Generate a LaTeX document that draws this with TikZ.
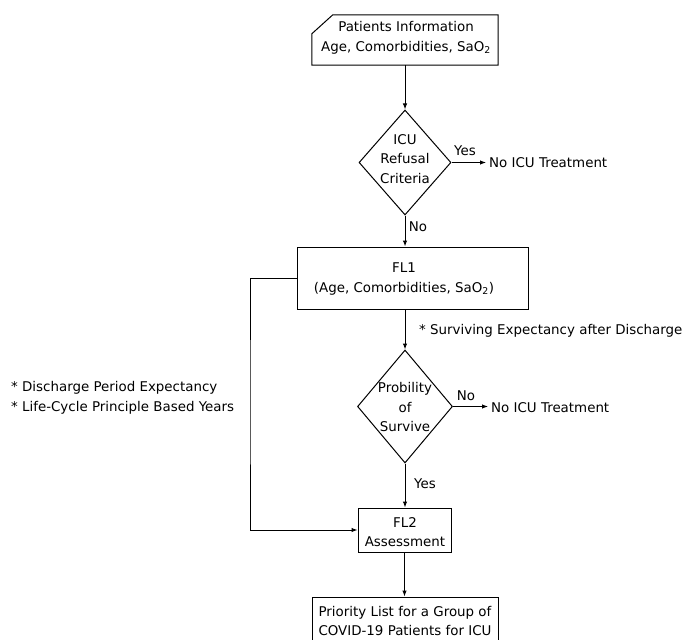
\documentclass[tikz,border=0pt]{standalone}
\usepackage{fontspec}
\setmainfont{DejaVu Sans}
\usetikzlibrary{shapes.geometric,arrows.meta}
\begin{document}
\begin{tikzpicture}[x=1pt,y=-1pt,
  every node/.style={font=\fontsize{13.4}{19.5}\selectfont, inner sep=0pt, align=center},
  boxshape/.style={draw, rectangle, line width=1pt},
  diam/.style={draw, diamond, line width=1pt},
  txt/.style={},
  conn/.style={line width=1pt},
  arr/.style={line width=1pt, -{Latex[length=6pt,width=4.5pt]}}]
\useasboundingbox (0,0) rectangle (692,639);
\clip (0,0) rectangle (692,639);
% top card
\node[minimum width=186pt, minimum height=50pt] (p) at (405,40) {};
\draw[line width=1pt] ([xshift=21pt]p.north west) -- (p.north east) -- (p.south east) -- (p.south west) -- ([yshift=-19pt]p.north west) -- cycle;
\node[txt] (pt) at (406,38) {Patients Information\\Age, Comorbidities, SaO\textsubscript{2}};
% diamond 1
\node[diam, minimum width=92pt, minimum height=105pt] (d1) at (405,162.5) {};
\node[txt] (d1t) at (405,159) {ICU\\Refusal\\Criteria};
\node[txt, anchor=west] (no1) at (489,163) {No ICU Treatment};
\node[txt] (yes1) at (465,151) {Yes};
\node[txt] (no1l) at (418,227) {No};
% FL1
\node[boxshape, minimum width=231pt, minimum height=62pt] (fl1) at (412.5,278) {};
\node[txt] (fl1t) at (404,279) {FL1\\(Age, Comorbidities, SaO\textsubscript{2})};
\node[txt, anchor=west] (surv) at (419,331) {* Surviving Expectancy after Discharge};
% diamond 2
\node[diam, minimum width=95pt, minimum height=113pt] (d2) at (405,406.5) {};
\node[txt] (d2t) at (405,407) {Probility\\of\\Survive};
\node[txt] (no2l) at (466,396) {No};
\node[txt, anchor=west] (no2) at (491,408) {No ICU Treatment};
\node[txt] (yes2) at (425,484) {Yes};
% left text
\node[txt, anchor=west, align=left] (left) at (11,398) {* Discharge Period Expectancy\\* Life-Cycle Principle Based Years};
\coordinate (lc) at (250,400);
% FL2
\node[boxshape, minimum width=93pt, minimum height=44pt] (fl2) at (404.5,530) {};
\node[txt] (fl2t) at (405,532) {FL2\\Assessment};
% final
\node[boxshape, minimum width=186pt, minimum height=70pt] (fin) at (405,632) {};
\node[txt] (fint) at (405,621) {Priority List for a Group of\\COVID-19 Patients for ICU};
% connectors
\draw[arr] (p.south -| d1.north) -- (d1.north);
\draw[arr] (d1.east) -- ([xshift=-3pt]no1.west |- d1.east);
\draw[arr] (d1.south) -- (d1.south |- fl1.north);
\draw[arr] (d2.north |- fl1.south) -- (d2.north);
\draw[arr] (d2.east) -- ([xshift=-3pt]no2.west |- d2.east);
\draw[arr] (d2.south) -- (d2.south |- fl2.north);
\draw[arr] (fl1.west) -| (lc) |- (fl2.west);
\draw[arr] (fl2.south) -- (fl2.south |- fin.north);
\end{tikzpicture}
\end{document}
